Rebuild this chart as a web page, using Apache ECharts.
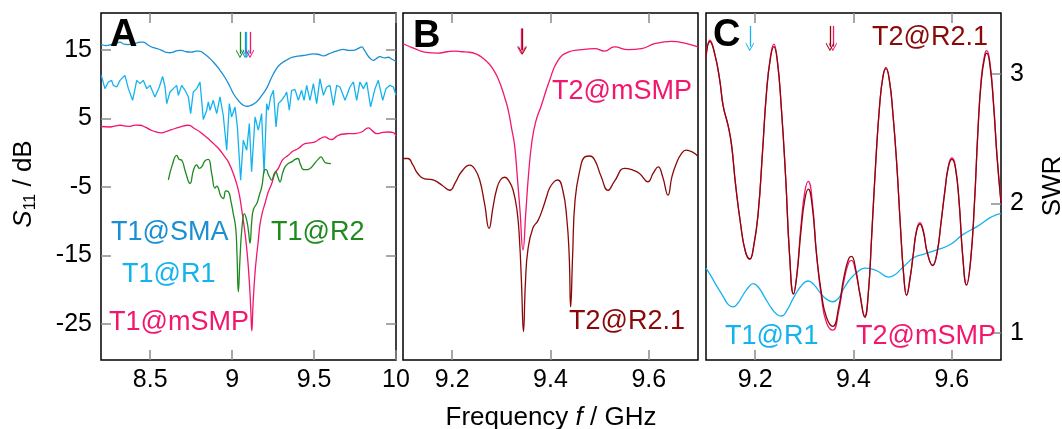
<!DOCTYPE html>
<html><head><meta charset="utf-8">
<script src="https://cdn.jsdelivr.net/npm/echarts@6/dist/echarts.min.js"></script>
<style>html,body{margin:0;padding:0;background:#fff}#c{width:1062px;height:429px}</style>
</head><body><div id="c"></div>
<script>
const FONT = 'Liberation Sans, Arial, Helvetica, sans-serif';

// ---------- Panel A : S11 (dB) vs frequency (GHz) ----------
const t1SMA = [[8.2,15.8],[8.23,15.6],[8.255,15.7],[8.28,15.9],[8.3,16.0],[8.316,16.1],[8.34,15.8],[8.365,15.75],[8.39,15.85],[8.42,16.0],[8.44,16.1],[8.457,16.1],[8.48,15.8],[8.5,15.5],[8.52,15.3],[8.55,15.1],[8.58,14.8],[8.6,14.6],[8.62,14.55],[8.641,14.66],[8.665,14.85],[8.69,14.9],[8.72,14.7],[8.753,14.65],[8.78,14.8],[8.8,14.8],[8.83,14.4],[8.865,13.7],[8.9,12.8],[8.926,12.0],[8.96,10.8],[8.987,9.6],[9.01,8.5],[9.038,7.6],[9.065,6.95],[9.089,6.75],[9.12,6.95],[9.15,7.4],[9.18,8.3],[9.211,9.4],[9.24,10.9],[9.275,12.4],[9.3,13.0],[9.333,13.5],[9.37,13.9],[9.414,14.1],[9.45,14.2],[9.496,14.4],[9.53,14.3],[9.557,14.1],[9.59,14.4],[9.618,14.66],[9.65,14.9],[9.679,15.05],[9.71,14.9],[9.74,14.9],[9.77,15.2],[9.791,15.4],[9.805,15.0],[9.821,14.4],[9.84,13.8],[9.862,13.45],[9.88,13.7],[9.902,14.0],[9.93,13.8],[9.953,13.9],[9.975,13.6],[10.0,13.3]];

const t1R1 = [[8.202,11.26],[8.224,9.32],[8.245,10.29],[8.265,10.53],[8.275,9.80],[8.296,9.56],[8.316,10.53],[8.346,11.26],[8.367,9.32],[8.393,7.62],[8.418,10.53],[8.438,10.05],[8.458,10.53],[8.479,9.32],[8.499,9.80],[8.529,8.11],[8.556,9.56],[8.576,11.11],[8.591,9.56],[8.601,7.13],[8.621,8.83],[8.641,9.32],[8.662,9.80],[8.672,8.35],[8.692,9.80],[8.713,9.08],[8.733,8.11],[8.747,5.68],[8.763,8.83],[8.784,9.32],[8.804,10.29],[8.814,7.62],[8.824,4.81],[8.845,6.17],[8.855,7.38],[8.865,6.17],[8.885,7.62],[8.906,5.68],[8.926,8.11],[8.946,5.44],[8.967,0.34],[8.983,7.13],[8.997,5.19],[9.018,6.65],[9.032,3.74],[9.052,-4.02],[9.068,1.80],[9.089,0.34],[9.105,4.22],[9.119,-2.81],[9.140,5.19],[9.160,3.26],[9.180,5.68],[9.195,-3.05],[9.211,7.13],[9.221,6.17],[9.235,8.11],[9.252,9.08],[9.268,3.74],[9.282,7.13],[9.302,7.62],[9.323,8.35],[9.333,8.83],[9.349,6.17],[9.363,9.08],[9.384,9.17],[9.404,7.62],[9.424,9.08],[9.439,7.62],[9.455,9.80],[9.475,7.62],[9.496,10.05],[9.516,7.13],[9.536,10.77],[9.557,8.35],[9.577,9.56],[9.597,9.80],[9.618,6.89],[9.638,9.80],[9.658,9.56],[9.689,7.62],[9.719,9.56],[9.740,10.29],[9.760,7.62],[9.780,10.29],[9.801,9.32],[9.821,10.29],[9.845,6.65],[9.872,9.32],[9.892,10.53],[9.919,7.62],[9.939,9.32],[9.963,9.80],[9.984,9.56],[10.0,8.35]];

const t1mSMP = [[8.2,3.8],[8.255,3.73],[8.29,3.9],[8.316,3.98],[8.35,3.85],[8.377,3.83],[8.41,4.0],[8.438,3.98],[8.47,3.7],[8.499,3.35],[8.535,3.0],[8.57,2.86],[8.6,3.1],[8.631,3.35],[8.68,3.7],[8.733,3.98],[8.77,3.5],[8.804,3.0],[8.835,2.4],[8.865,1.8],[8.9,1.0],[8.926,0.34],[8.955,-0.6],[8.977,-1.36],[9.007,-3.05],[9.038,-5.48],[9.059,-8.4],[9.079,-11.8],[9.095,-15.5],[9.108,-20.0],[9.115,-23.5],[9.12,-26.0],[9.128,-22.0],[9.14,-17.5],[9.152,-14.5],[9.16,-12.8],[9.17,-10.5],[9.185,-8.7],[9.201,-7.4],[9.22,-5.8],[9.242,-4.5],[9.262,-3.0],[9.282,-2.3],[9.31,-1.0],[9.343,-0.4],[9.37,0.2],[9.404,0.59],[9.445,1.3],[9.475,1.4],[9.506,1.55],[9.535,2.0],[9.567,2.28],[9.59,2.0],[9.608,1.9],[9.64,2.4],[9.669,2.67],[9.71,2.75],[9.75,2.77],[9.791,3.0],[9.831,3.6],[9.855,3.2],[9.882,2.77],[9.92,2.95],[9.953,3.0],[9.984,2.9],[10.0,2.38]];

const t1R2 = [[8.611,-4.0],[8.635,-1.8],[8.662,-0.4],[8.677,-1.0],[8.692,-1.1],[8.715,-2.8],[8.743,-4.5],[8.765,-2.5],[8.784,-1.8],[8.8,-2.3],[8.814,-2.1],[8.835,-1.2],[8.855,-1.0],[8.875,-3.0],[8.896,-5.2],[8.906,-4.9],[8.916,-5.2],[8.93,-6.3],[8.946,-6.7],[8.962,-5.6],[8.977,-5.7],[8.992,-7.0],[9.007,-8.9],[9.022,-11.0],[9.03,-15.0],[9.038,-20.3],[9.048,-15.5],[9.06,-11.0],[9.075,-8.9],[9.09,-10.0],[9.1,-11.5],[9.109,-13.2],[9.12,-10.0],[9.13,-8.3],[9.151,-7.4],[9.165,-6.3],[9.181,-5.0],[9.201,-2.47],[9.21,-2.5],[9.221,-3.2],[9.242,-4.0],[9.255,-3.2],[9.266,-2.8],[9.28,-3.6],[9.292,-4.27],[9.308,-3.0],[9.323,-2.1],[9.343,-1.6],[9.363,-1.36],[9.385,-1.0],[9.40,-0.87],[9.418,-1.8],[9.434,-2.47],[9.455,-2.5],[9.475,-2.32],[9.49,-2.0],[9.506,-1.5],[9.525,-1.0],[9.542,-0.63],[9.557,-1.1],[9.571,-1.5],[9.603,-1.6]];

// ---------- Panel B : S11 (dB) ----------
const t2mSMP_B = [[9.1,15.87],[9.112,15.5],[9.124,15.15],[9.144,14.65],[9.171,14.5],[9.19,14.7],[9.205,14.8],[9.22,14.7],[9.232,14.65],[9.248,14.4],[9.26,13.9],[9.27,13.3],[9.28,12.5],[9.29,11.3],[9.3,9.56],[9.307,8.0],[9.314,6.2],[9.321,3.5],[9.327,1.0],[9.333,-4.0],[9.338,-8.5],[9.344,-14.2],[9.35,-8.5],[9.355,-3.5],[9.362,1.5],[9.37,4.5],[9.381,6.8],[9.398,10.5],[9.415,13.4],[9.436,14.65],[9.463,15.0],[9.49,15.15],[9.51,14.8],[9.53,15.4],[9.558,15.0],[9.585,15.15],[9.612,15.87],[9.646,16.2],[9.673,15.96],[9.7,15.4]];

const t2R21_B = [[9.1,-0.87],[9.11,-0.87],[9.12,-1.8],[9.13,-3.05],[9.144,-3.85],[9.155,-3.9],[9.165,-4.1],[9.18,-4.8],[9.195,-5.5],[9.207,-4.3],[9.219,-2.8],[9.236,-1.84],[9.246,-2.4],[9.256,-4.0],[9.266,-7.5],[9.275,-11.05],[9.283,-8.0],[9.29,-5.5],[9.298,-4.0],[9.307,-3.6],[9.316,-4.2],[9.324,-5.5],[9.332,-8.5],[9.337,-12.8],[9.341,-19.0],[9.345,-26.1],[9.349,-19.0],[9.354,-14.2],[9.364,-11.05],[9.375,-9.85],[9.385,-8.0],[9.392,-6.45],[9.398,-5.2],[9.408,-4.2],[9.415,-4.0],[9.425,-5.5],[9.433,-9.5],[9.438,-15.0],[9.441,-22.5],[9.445,-15.0],[9.45,-6.9],[9.46,-2.5],[9.47,-0.63],[9.48,-0.5],[9.49,-1.1],[9.503,-3.5],[9.517,-5.5],[9.53,-4.2],[9.551,-2.3],[9.565,-2.5],[9.581,-3.05],[9.598,-4.27],[9.609,-3.0],[9.619,-2.1],[9.628,-3.5],[9.639,-6.2],[9.647,-3.5],[9.656,-1.6],[9.666,-0.2],[9.676,0.34],[9.688,0.1],[9.7,-0.53]];

// ---------- Panel C : SWR ----------
const t2R21_C = [[9.1,3.13],[9.108,3.25],[9.118,3.15],[9.128,2.95],[9.135,2.75],[9.145,2.6],[9.152,2.45],[9.16,2.15],[9.17,1.85],[9.18,1.63],[9.189,1.57],[9.197,1.67],[9.206,1.92],[9.215,2.4],[9.223,2.85],[9.231,3.12],[9.238,3.21],[9.245,3.1],[9.253,2.75],[9.262,2.2],[9.27,1.6],[9.278,1.3],[9.285,1.45],[9.293,1.78],[9.301,2.03],[9.308,2.11],[9.316,1.98],[9.325,1.6],[9.335,1.3],[9.345,1.12],[9.358,1.05],[9.37,1.2],[9.38,1.42],[9.39,1.57],[9.396,1.59],[9.404,1.5],[9.413,1.3],[9.423,1.12],[9.43,1.3],[9.437,1.75],[9.445,2.3],[9.453,2.75],[9.46,2.98],[9.466,3.04],[9.473,2.95],[9.48,2.7],[9.488,2.3],[9.495,1.85],[9.502,1.45],[9.508,1.29],[9.515,1.42],[9.522,1.62],[9.528,1.78],[9.535,1.84],[9.542,1.78],[9.55,1.62],[9.561,1.52],[9.57,1.62],[9.578,1.85],[9.586,2.1],[9.593,2.28],[9.6,2.34],[9.607,2.28],[9.615,2.0],[9.622,1.6],[9.63,1.37],[9.638,1.55],[9.646,2.0],[9.653,2.55],[9.66,2.95],[9.667,3.13],[9.671,3.16],[9.678,3.05],[9.685,2.75],[9.692,2.35],[9.7,2.0]];

const t2mSMP_C = [[9.1,3.13],[9.108,3.26],[9.118,3.15],[9.128,2.95],[9.135,2.75],[9.145,2.6],[9.152,2.45],[9.16,2.15],[9.17,1.85],[9.18,1.63],[9.189,1.57],[9.197,1.67],[9.206,1.92],[9.215,2.4],[9.223,2.86],[9.231,3.13],[9.238,3.23],[9.245,3.11],[9.253,2.75],[9.262,2.2],[9.27,1.6],[9.278,1.3],[9.285,1.46],[9.293,1.82],[9.301,2.09],[9.308,2.17],[9.316,2.02],[9.325,1.6],[9.335,1.27],[9.345,1.08],[9.358,1.02],[9.37,1.17],[9.38,1.39],[9.39,1.54],[9.396,1.56],[9.404,1.48],[9.413,1.3],[9.423,1.13],[9.43,1.3],[9.437,1.75],[9.445,2.3],[9.453,2.75],[9.46,2.98],[9.466,3.05],[9.473,2.95],[9.48,2.7],[9.488,2.3],[9.495,1.85],[9.502,1.45],[9.508,1.29],[9.515,1.42],[9.522,1.62],[9.528,1.79],[9.535,1.85],[9.542,1.79],[9.55,1.62],[9.561,1.52],[9.57,1.62],[9.578,1.85],[9.586,2.1],[9.593,2.29],[9.6,2.35],[9.607,2.29],[9.615,2.0],[9.622,1.6],[9.63,1.37],[9.638,1.55],[9.646,2.0],[9.653,2.56],[9.66,2.97],[9.667,3.15],[9.671,3.18],[9.678,3.07],[9.685,2.77],[9.692,2.37],[9.7,2.02]];

const t1R1_C = [[9.1,1.50],[9.11,1.44],[9.122,1.36],[9.135,1.28],[9.145,1.22],[9.155,1.20],[9.165,1.23],[9.175,1.29],[9.186,1.35],[9.196,1.38],[9.207,1.35],[9.22,1.27],[9.235,1.18],[9.245,1.14],[9.254,1.13],[9.264,1.17],[9.278,1.27],[9.293,1.36],[9.308,1.40],[9.32,1.37],[9.332,1.31],[9.345,1.26],[9.358,1.24],[9.37,1.27],[9.38,1.34],[9.392,1.41],[9.405,1.46],[9.423,1.50],[9.44,1.49],[9.452,1.47],[9.471,1.43],[9.485,1.45],[9.496,1.49],[9.51,1.54],[9.522,1.58],[9.545,1.61],[9.569,1.64],[9.596,1.68],[9.623,1.76],[9.651,1.82],[9.678,1.89],[9.69,1.91],[9.7,1.92]];

// ---------- resonance markers (arrows) ----------
const arrowsA_f = [9.048, 9.079, 9.089, 9.109];   // R2, SMA, R1, mSMP
const arrowsA_db = [17.6, 14.4];
const arrowsB_f = [9.341, 9.343];                 // mSMP, R2.1
const arrowsB_db = [18.1, 14.9];
const arrowsC_f = [9.189, 9.352, 9.358];          // R1, R2.1, mSMP
const arrowsC_swr = [3.37, 3.21];

// ---------- axes ----------
const xRangeA = [8.2, 10];
const xRangeBC = [9.1, 9.7];
const yRangeDb = [-30.25, 20.35];
const yRangeSwr = [0.79, 3.47];
const xTicksA = [8.5, 9, 9.5, 10];
const xTicksBC = [9.2, 9.4, 9.6];
const yTicksDb = [15, 5, -5, -15, -25];
const yTicksSwr = [1, 2, 3];

const C_SMA = '#1a8fd3', C_R1 = '#14b3ee', C_MSMP = '#f2166c', C_R2 = '#1d8a1d', C_R21 = '#8a0808';

const chart = echarts.init(document.getElementById('c'), null, {renderer: 'canvas'});

const TICK = {show: true, inside: true, length: 10, lineStyle: {color: '#8c8c8c', width: 1.5}};
function xAx(grid, range, ticks, pos, labels) {
  return {type: 'value', gridIndex: grid, position: pos, min: range[0], max: range[1],
    axisLine: {show: false, onZero: false}, splitLine: {show: false},
    axisTick: Object.assign({customValues: ticks}, TICK),
    axisLabel: {show: labels, customValues: ticks, color: '#000', fontSize: 25, fontFamily: FONT, margin: 8}};
}
function yAx(grid, range, ticks, pos, labels, tickShow) {
  return {type: 'value', gridIndex: grid, position: pos, min: range[0], max: range[1],
    axisLine: {show: false, onZero: false}, splitLine: {show: false},
    axisTick: Object.assign({customValues: ticks}, TICK, {show: tickShow}),
    axisLabel: {show: labels, customValues: ticks, color: '#000', fontSize: 25, fontFamily: FONT, margin: 9}};
}
const ARROW = 'path://M5,0 L10,8 L10,10 L5,2.2 L0,10 L0,8 Z';
function arrow(f, span, color) {
  return {silent: true, symbol: ['none', ARROW], symbolSize: [8, 9], animation: false,
    label: {show: false}, lineStyle: {color: color, width: 1.3, type: 'solid'},
    data: f.map(v => [{coord: [v, span[0]]}, {coord: [v, span[1]]}])};
}
function line(data, color, xi, yi, smooth, extra) {
  return Object.assign({type: 'line', data: data, xAxisIndex: xi, yAxisIndex: yi,
    symbol: 'none', showSymbol: false, smooth: smooth,
    lineStyle: {color: color, width: 1.3}, itemStyle: {color: color}, silent: true, animation: false}, extra || {});
}

const labelStyle = (t, color, size, bold) => ({text: t, fill: color, font: (bold ? 'bold ' : '') + size + 'px ' + FONT,
  align: 'left', textAlign: 'left', verticalAlign: 'middle', textVerticalAlign: 'middle'});
function txt(x, y, t, color, size, bold) {
  return {type: 'text', x: x, y: y, silent: true, z: 100, style: labelStyle(t, color, size, bold)};
}

const S = 0.5;
const option = {
  animation: false,
  backgroundColor: '#fff',
  grid: [
    {left: 101, top: 13, width: 295, height: 347, show: true, borderColor: '#000', borderWidth: 1.5, backgroundColor: 'transparent'},
    {left: 403, top: 13, width: 295, height: 347, show: true, borderColor: '#000', borderWidth: 1.5, backgroundColor: 'transparent'},
    {left: 706, top: 13, width: 295, height: 347, show: true, borderColor: '#000', borderWidth: 1.5, backgroundColor: 'transparent'}
  ],
  xAxis: [
    xAx(0, xRangeA, xTicksA, 'bottom', true),
    xAx(0, xRangeA, xTicksA, 'top', false),
    xAx(1, xRangeBC, xTicksBC, 'bottom', true),
    xAx(1, xRangeBC, xTicksBC, 'top', false),
    xAx(2, xRangeBC, xTicksBC, 'bottom', true),
    xAx(2, xRangeBC, xTicksBC, 'top', false)
  ],
  yAxis: [
    yAx(0, yRangeDb, yTicksDb, 'left', true, true),
    yAx(0, yRangeDb, yTicksDb, 'right', false, true),
    yAx(1, yRangeDb, yTicksDb, 'left', false, false),
    yAx(2, yRangeSwr, yTicksSwr, 'right', true, true)
  ],
  series: [
    line(t1SMA, C_SMA, 0, 0, S, {markLine: arrow([arrowsA_f[1]], arrowsA_db, C_SMA)}),
    line(t1R1, C_R1, 0, 0, false, {markLine: arrow([arrowsA_f[2]], arrowsA_db, C_R1)}),
    line(t1mSMP, C_MSMP, 0, 0, S, {markLine: arrow([arrowsA_f[3]], arrowsA_db, C_MSMP)}),
    line(t1R2, C_R2, 0, 0, S, {markLine: arrow([arrowsA_f[0]], arrowsA_db, C_R2)}),
    line(t2R21_B, C_R21, 2, 2, S, {markLine: arrow([arrowsB_f[1]], arrowsB_db, C_R21)}),
    line(t2mSMP_B, C_MSMP, 2, 2, S, {markLine: arrow([arrowsB_f[0]], arrowsB_db, C_MSMP)}),
    line(t1R1_C, C_R1, 4, 3, S, {markLine: arrow([arrowsC_f[0]], arrowsC_swr, C_R1)}),
    line(t2mSMP_C, C_MSMP, 4, 3, S, {markLine: arrow([arrowsC_f[2]], arrowsC_swr, C_MSMP)}),
    line(t2R21_C, C_R21, 4, 3, S, {markLine: arrow([arrowsC_f[1]], arrowsC_swr, C_R21)})
  ],
  graphic: [
    txt(110, 36, 'A', '#000', 38, true),
    txt(413, 37, 'B', '#000', 38, true),
    txt(713, 36, 'C', '#000', 38, true),
    txt(111, 233, 'T1@SMA', C_SMA, 27),
    txt(122, 275, 'T1@R1', C_R1, 27),
    txt(109, 323, 'T1@mSMP', C_MSMP, 27),
    txt(271, 233, 'T1@R2', C_R2, 27),
    txt(552, 92, 'T2@mSMP', C_MSMP, 27),
    txt(569, 322, 'T2@R2.1', C_R21, 27),
    txt(872, 38, 'T2@R2.1', C_R21, 27),
    txt(725, 337, 'T1@R1', C_R1, 27),
    txt(856, 337, 'T2@mSMP', C_MSMP, 27),
    {type: 'text', x: 24, y: 184, rotation: Math.PI / 2, silent: true, z: 100,
      style: {text: '{i|S}{s|11}{n| / dB}', align: 'center', textAlign: 'center', verticalAlign: 'middle', textVerticalAlign: 'middle',
        fill: '#000', font: '26px ' + FONT,
        rich: {i: {fontSize: 26, fontStyle: 'italic', fontFamily: FONT, lineHeight: 30, fill: '#000'},
               s: {fontSize: 16, fontFamily: FONT, lineHeight: 15, verticalAlign: 'bottom', fill: '#000'},
               n: {fontSize: 26, fontFamily: FONT, lineHeight: 30, fill: '#000'}}}},
    {type: 'text', x: 1053, y: 186, rotation: Math.PI / 2, silent: true, z: 100,
      style: {text: 'SWR', align: 'center', textAlign: 'center', verticalAlign: 'middle', textVerticalAlign: 'middle',
        fill: '#000', font: '26px ' + FONT}},
    {type: 'text', x: 551, y: 418, silent: true, z: 100,
      style: {text: '{n|Frequency }{i|f}{n| / GHz}', align: 'center', textAlign: 'center', verticalAlign: 'middle', textVerticalAlign: 'middle',
        fill: '#000', font: '26px ' + FONT,
        rich: {n: {fontSize: 26, fontFamily: FONT, fill: '#000'}, i: {fontSize: 26, fontStyle: 'italic', fontFamily: FONT, fill: '#000'}}}}
  ]
};
chart.setOption(option);
</script>
</body></html>
